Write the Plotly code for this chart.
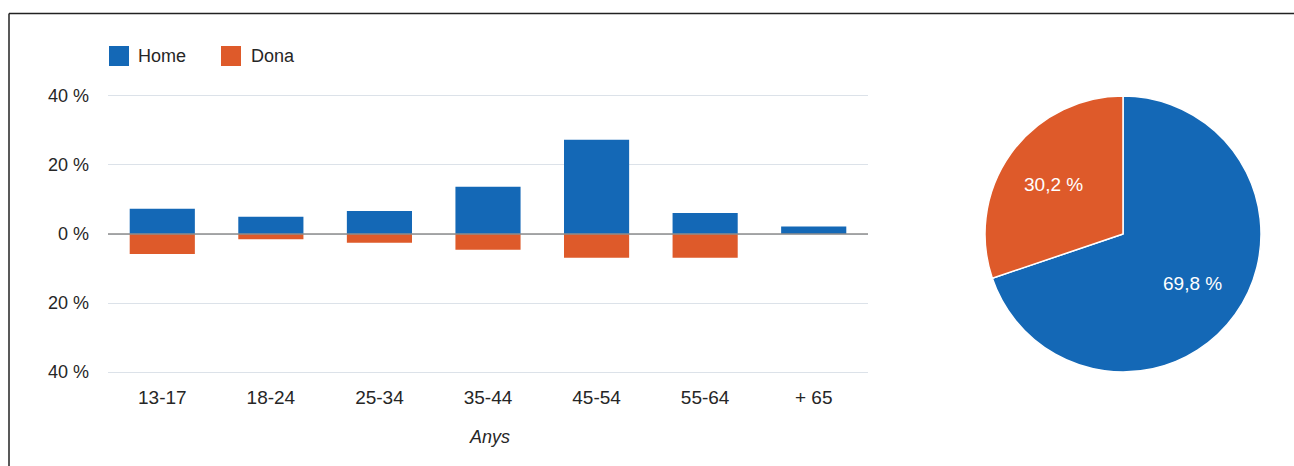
import math
import plotly.graph_objects as go

W, H = 1294, 466

categories = ["13-17", "18-24", "25-34", "35-44", "45-54", "55-64", "+ 65"]
home_values = [7.3, 5.0, 6.7, 13.7, 27.3, 6.1, 2.2]
dona_values = [5.8, 1.5, 2.5, 4.6, 6.9, 6.9, 0.0]
y_tickvals = [-40, -20, 0, 20, 40]
y_ticktext = ["40 %", "20 %", "0 %", "20 %", "40 %"]
pie_labels = ["Home", "Dona"]
pie_values = [69.8, 30.2]
pie_text = ["69,8 %", "30,2 %"]

BLUE = "#1468B6"
ORANGE = "#DE5A2A"
FONT = "Liberation Sans, Arial, sans-serif"
TXT = "#262626"


def px(x):
    return x / W


def py(y):
    return 1 - y / H


fig = go.Figure()
fig.add_trace(go.Bar(x=categories, y=home_values, name="Home",
                     marker=dict(color=BLUE, line=dict(width=0)), showlegend=False))
fig.add_trace(go.Bar(x=categories, y=[-v for v in dona_values], name="Dona",
                     marker=dict(color=ORANGE, line=dict(width=0)), showlegend=False))

# pie geometry (paper fraction domain)
pie_x0, pie_x1 = px(985), px(1261)
pie_y0, pie_y1 = py(372), py(96)
fig.add_trace(go.Pie(labels=pie_labels, values=pie_values,
                     textinfo="none", sort=False, direction="clockwise", rotation=0,
                     marker=dict(colors=[BLUE, ORANGE], line=dict(color="white", width=1.5)),
                     domain=dict(x=[pie_x0, pie_x1], y=[pie_y0, pie_y1]),
                     showlegend=False, hoverinfo="label+percent"))

# slice labels placed along each slice's bisector
annotations = []
cx_px = (985 + 1261) / 2
cy_px = (96 + 372) / 2
r_px = (1261 - 985) / 2
total = sum(pie_values)
start = 0.0
for val, txt in zip(pie_values, pie_text):
    mid = start + val / total * 360 / 2
    start += val / total * 360
    ang = math.radians(mid)
    lx = cx_px + 0.62 * r_px * math.sin(ang)
    ly = cy_px - 0.62 * r_px * math.cos(ang)
    annotations.append(dict(text=txt, xref="paper", yref="paper", x=px(lx), y=py(ly),
                            xanchor="center", yanchor="middle", showarrow=False,
                            font=dict(size=19, color="white")))

annotations += [
    dict(text="Home", xref="paper", yref="paper", x=px(136), y=py(56), xanchor="left",
         yanchor="middle", showarrow=False, font=dict(size=18, color=TXT)),
    dict(text="Dona", xref="paper", yref="paper", x=px(249), y=py(56), xanchor="left",
         yanchor="middle", showarrow=False, font=dict(size=18, color=TXT)),
    dict(text="<i>Anys</i>", xref="paper", yref="paper", x=px(489), y=py(437),
         xanchor="center", yanchor="middle", showarrow=False,
         font=dict(size=18, color=TXT)),
]

fig.update_layout(
    width=W, height=H, autosize=False,
    margin=dict(l=0, r=0, t=0, b=0, pad=0),
    paper_bgcolor="white", plot_bgcolor="white",
    barmode="relative", bargap=0.4,
    font=dict(family=FONT, size=18, color=TXT),
    xaxis=dict(domain=[px(108), px(868)], showgrid=False, showline=False,
               zeroline=False, ticks="", ticklabelstandoff=9, automargin=False,
               tickfont=dict(size=19, color=TXT)),
    yaxis=dict(domain=[py(374.8), py(93.2)], range=[-40.8, 40.8],
               tickvals=y_tickvals, ticktext=y_ticktext,
               showgrid=True, gridcolor="#dce2e9", gridwidth=1,
               zeroline=False, automargin=False,
               showline=False, ticks="", ticklabelstandoff=18,
               tickfont=dict(size=18, color=TXT)),
    shapes=[
        dict(type="line", xref="paper", yref="paper", x0=px(9), x1=1, y0=py(13.5), y1=py(13.5),
             line=dict(color="#222", width=1.5)),
        dict(type="line", xref="paper", yref="paper", x0=px(9), x1=px(9), y0=0, y1=py(13.5),
             line=dict(color="#222", width=1.5)),
        dict(type="line", xref="x domain", yref="y", x0=0, x1=1, y0=0, y1=0, layer="above",
             line=dict(color="#8c8c8c", width=1.5)),
        dict(type="rect", xref="paper", yref="paper", x0=px(109), x1=px(129), y0=py(66), y1=py(46),
             fillcolor=BLUE, line=dict(width=0)),
        dict(type="rect", xref="paper", yref="paper", x0=px(221), x1=px(241), y0=py(66), y1=py(46),
             fillcolor=ORANGE, line=dict(width=0)),
    ],
    annotations=annotations,
)

fig.write_html("out.html")
